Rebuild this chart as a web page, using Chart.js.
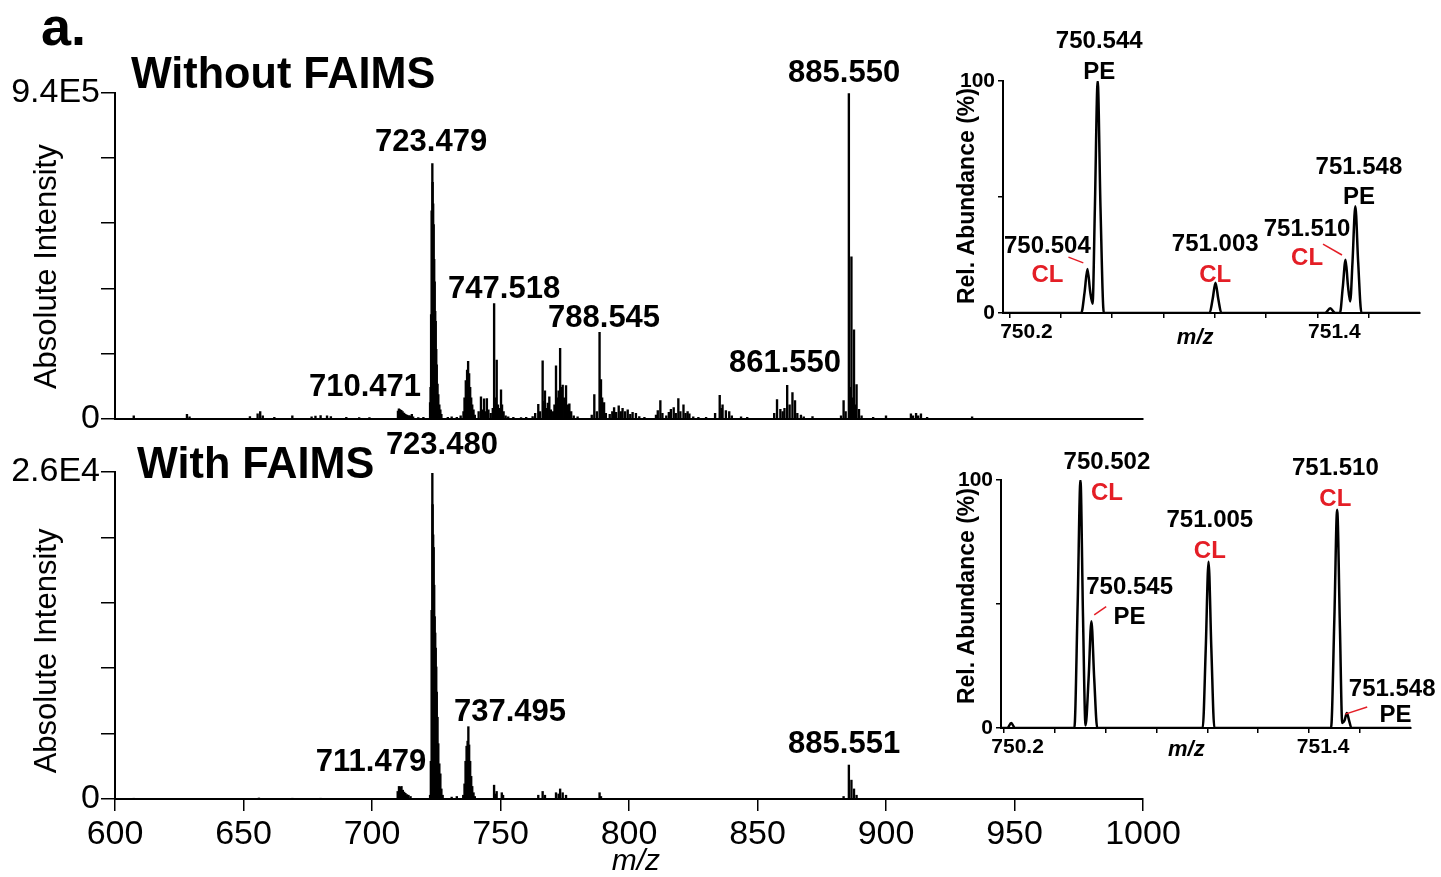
<!DOCTYPE html>
<html>
<head>
<meta charset="utf-8">
<script src="https://cdn.jsdelivr.net/npm/chart.js@4.4.1/dist/chart.umd.min.js"></script>
<style>
  html, body { margin: 0; padding: 0; background: #fff; }
  #wrap { position: relative; width: 1441px; height: 877px; overflow: hidden; }
  canvas { position: absolute; }
</style>
</head>
<body>
<div id="wrap">
  <canvas id="mainTop" width="1160" height="440" style="left:0;top:0"></canvas>
  <canvas id="mainBottom" width="1200" height="457" style="left:0;top:420px"></canvas>
  <canvas id="insetTop" width="500" height="330" style="left:940px;top:20px"></canvas>
  <canvas id="insetBottom" width="501" height="330" style="left:940px;top:440px"></canvas>
</div>
<script>
// ---- spectrum without FAIMS (absolute intensity) ----
const mzWithout = [
  607.3, 628.0, 629.0, 652.5, 655.5, 656.5, 657.5, 662.0, 669.0, 676.5, 678.0, 680.0, 682.5, 684.0, 690.0, 695.0, 699.0,
  710.1, 710.47, 710.9, 711.4, 711.9, 712.5, 713.0, 713.6, 714.2, 714.8, 715.5, 716.0, 718.0, 720.0,
  722.6, 722.8, 723.0, 723.2, 723.479, 723.6, 723.8, 724.0, 724.2, 724.4, 724.6, 724.8, 725.0, 725.2, 725.5, 725.8, 726.2, 726.6, 727.0,
  729.5, 731.0, 733.0, 734.5,
  735.6, 736.0, 736.5, 737.0, 737.4, 737.8, 738.2, 738.6, 739.0, 739.5, 740.0,
  741.5, 742.4, 743.0, 743.6, 744.2, 744.7, 745.3, 746.2, 747.0, 747.518, 748.0, 748.52, 749.0, 749.5, 750.2, 750.6, 751.2, 752.0, 753.0, 755.0, 758.0, 760.0,
  762.5, 763.5, 764.7, 765.4, 766.4, 766.9, 767.3, 768.0, 768.4, 769.0, 769.6, 770.5, 771.0, 771.6, 772.2, 772.6, 773.2, 773.7, 774.2, 774.8, 775.5, 776.2, 776.8, 777.5, 778.5, 780.0,
  785.5, 786.5, 787.5, 788.545, 789.1, 789.55, 790.3, 791.0, 792.5, 793.5, 794.2, 795.0, 796.0, 796.8, 797.5, 798.5, 799.5, 800.5, 801.4, 802.7, 804.0, 806.0,
  810.5, 811.2, 812.2, 813.0, 814.5, 815.5, 816.3, 817.4, 818.2, 819.2, 820.0, 821.2, 822.0, 822.8, 823.5, 825.0, 827.0,
  830.0, 833.5, 835.3, 836.0, 836.4, 837.7, 839.0, 840.0, 843.6, 846.0,
  856.5, 857.6, 858.9, 859.8, 860.5, 861.55, 862.5, 863.6, 864.6, 865.5, 866.9, 868.0, 871.4,
  882.5, 883.5, 884.3, 885.55, 886.0, 886.55, 887.0, 887.55, 888.0, 888.55, 889.5, 890.5,
  895.0, 900.0, 909.7, 910.5, 911.7, 912.5, 913.6, 916.0, 933.5
];
const intWithout = [
  8000, 12000, 5000, 6000, 14000, 20000, 8000, 4000, 8000, 5000, 7000, 9000, 8000, 6000, 4000, 3000, 3000,
  22000, 28000, 26000, 24000, 20000, 16000, 12000, 10000, 9000, 8000, 12000, 5000, 3000, 4000,
  46000, 90000, 300000, 600000, 736000, 682000, 620000, 560000, 460000, 395000, 310000, 281000, 200000, 155000, 100000, 69000, 40000, 25000, 12000,
  4000, 5000, 4000, 8000,
  20000, 60000, 110000, 140000, 165000, 130000, 90000, 60000, 40000, 25000, 10000,
  20000, 63000, 25000, 57000, 20000, 58000, 25000, 15000, 30000, 332000, 60000, 169000, 40000, 30000, 83000, 40000, 20000, 8000, 5000, 4000, 3000, 4000,
  6000, 15000, 41000, 20000, 167000, 50000, 80000, 30000, 45000, 63000, 25000, 20000, 40000, 152000, 60000, 80000, 203000, 90000, 97000, 60000, 95000, 40000, 43000, 20000, 8000, 5000,
  10000, 69000, 20000, 249000, 113000, 60000, 46000, 15000, 12000, 20000, 32000, 18000, 37000, 20000, 30000, 20000, 25000, 12000, 18000, 15000, 6000, 4000,
  10000, 23000, 52000, 15000, 8000, 18000, 27000, 32000, 15000, 58000, 20000, 40000, 15000, 20000, 14000, 5000, 4000,
  4000, 15000, 67000, 30000, 40000, 23000, 20000, 8000, 5000, 4000,
  15000, 55000, 27000, 20000, 30000, 96000, 40000, 75000, 52000, 15000, 10000, 5000, 6000,
  8000, 52000, 20000, 938000, 90000, 467000, 60000, 256000, 40000, 98000, 27000, 8000,
  4000, 8000, 14000, 8000, 15000, 8000, 14000, 4000, 5000
];

// ---- spectrum with FAIMS ----
const mzWith = [
  607.3, 656.0, 669.0, 680.0,
  710.0, 710.5, 711.0, 711.479, 712.0, 712.5, 713.0, 713.6, 714.2, 715.0,
  722.6, 722.9, 723.2, 723.48, 723.6, 723.8, 724.0, 724.2, 724.4, 724.6, 724.8, 725.0, 725.2, 725.5, 725.8, 726.2, 726.6, 727.0, 727.5,
  731.0, 733.0,
  735.5, 736.0, 736.4, 736.8, 737.2, 737.495, 737.8, 738.2, 738.6, 739.0, 739.5, 740.0,
  747.5, 748.0, 748.5, 750.5, 751.0,
  764.7, 766.4, 767.3, 771.6, 772.6, 773.2, 774.2, 775.5, 788.55, 789.1,
  883.5, 885.55, 886.55, 887.55, 888.55
];
const intWith = [
  50, 80, 60, 60,
  600, 1000, 950, 1000, 700, 550, 450, 350, 300, 200,
  300, 3000, 15000, 25900, 23400, 21000, 20000, 17000, 14500, 13200, 12000, 10500, 8500, 6500, 4400, 2800, 2000, 800, 300,
  150, 200,
  300, 1200, 3000, 4200, 4600, 5750, 4300, 3000, 1800, 1000, 500, 200,
  1100, 400, 600, 500, 300,
  300, 600, 300, 500, 400, 800, 500, 300, 500, 200,
  200, 2700, 1500, 800, 300
];

// ---- zoomed insets (relative abundance, %) ----
const mzInsetTop = [750.175, 750.21, 750.48, 750.493, 750.504, 750.515, 750.524, 750.533, 750.544, 750.555, 750.568,
  750.98, 750.992, 751.003, 751.014, 751.026, 751.43, 751.45, 751.47, 751.488, 751.499, 751.510, 751.519, 751.528,
  751.537, 751.548, 751.559, 751.572, 751.80];
const abInsetTop = [0, 0, 0, 9, 19, 9, 4, 45, 100, 45, 0,
  0, 6, 13, 6, 0, 0, 2, 0, 0, 11, 23, 12, 5,
  22, 46, 22, 0, 0];
const mzInsetBottom = [750.19, 750.215, 750.23, 750.245, 750.478, 750.491, 750.502, 750.512, 750.522, 750.534, 750.545,
  750.556, 750.568, 750.982, 750.994, 751.005, 751.016, 751.028, 751.486, 751.499, 751.510, 751.521, 751.53, 751.539,
  751.548, 751.557, 751.566, 751.80];
const abInsetBottom = [0, 0, 2, 0, 0, 50, 100, 45, 1, 20, 43,
  20, 0, 0, 32, 67, 32, 0, 0, 44, 88, 40, 2, 3,
  6, 3, 0, 0];

// ---- ticks ----
const mzTicks = [600, 650, 700, 750, 800, 850, 900, 950, 1000];
const yTicksWithout = [0, 188000, 376000, 564000, 752000, 940000];
const yTicksWith = [0, 5200, 10400, 15600, 20800, 26000];
const insetMzTicks = [750.2, 750.4, 750.6, 750.8, 751.0, 751.2, 751.4, 751.6];
const insetAbTicks = [0, 50, 100];

// ---- peak labels: [text, m/z, height] ----
const peaksWithout = [
  ['723.479', 723.0, 797000], ['710.471', 697.3, 89000], ['747.518', 751.4, 373000],
  ['788.545', 790.3, 289000], ['861.550', 860.7, 160000], ['885.550', 883.7, 997000]
];
const peaksWith = [
  ['723.480', 727.2, 28100], ['711.479', 699.6, 2940], ['737.495', 753.7, 6900], ['885.551', 883.7, 4300]
];
const insetTopNotes = [
  ['750.544', 750.550, 117.2, 'k'], ['PE', 750.550, 103.9, 'k'],
  ['750.504', 750.348, 28.9, 'k'], ['CL', 750.348, 16.4, 'r'],
  ['751.003', 751.002, 29.7, 'k'], ['CL', 751.002, 16.4, 'r'],
  ['751.510', 751.360, 36.2, 'k'], ['CL', 751.360, 23.7, 'r'],
  ['751.548', 751.562, 62.9, 'k'], ['PE', 751.562, 50.0, 'k']
];
const insetBottomNotes = [
  ['750.502', 750.606, 107.3, 'k'], ['CL', 750.606, 94.8, 'r'],
  ['751.005', 751.010, 83.7, 'k'], ['CL', 751.010, 71.1, 'r'],
  ['750.545', 750.695, 56.7, 'k'], ['PE', 750.695, 44.5, 'k'],
  ['751.510', 751.503, 104.6, 'k'], ['CL', 751.503, 92.1, 'r'],
  ['751.548', 751.726, 15.7, 'k'], ['PE', 751.739, 5.2, 'k']
];
const insetTopLeaders = [[750.430, 24.1, 750.488, 21.6], [751.422, 29.7, 751.496, 25.0]];
const insetBottomLeaders = [[750.603, 48.9, 750.556, 45.6], [751.628, 8.5, 751.542, 5.6]];

const FONT = '"Liberation Sans", Arial, Helvetica, sans-serif';
const RED = '#e41e26';

// draws free text and leader lines at data coordinates
const notesPlugin = {
  id: 'notes',
  afterDraw(chart, args, opts) {
    const { ctx } = chart;
    const sx = chart.scales.x, sy = chart.scales.y;
    ctx.save();
    (opts.lines || []).forEach(l => {
      ctx.strokeStyle = RED;
      ctx.lineWidth = 1.5;
      ctx.beginPath();
      ctx.moveTo(sx.getPixelForValue(l[0]), sy.getPixelForValue(l[1]));
      ctx.lineTo(sx.getPixelForValue(l[2]), sy.getPixelForValue(l[3]));
      ctx.stroke();
    });
    (opts.items || []).forEach(t => {
      ctx.save();
      ctx.translate(sx.getPixelForValue(t.x), sy.getPixelForValue(t.y));
      if (t.rotate) ctx.rotate(t.rotate);
      if (t.sx) ctx.scale(t.sx, 1);
      ctx.font = t.font;
      ctx.fillStyle = t.color || '#000';
      ctx.textAlign = t.align || 'center';
      ctx.textBaseline = t.baseline || 'middle';
      ctx.fillText(t.text, 0, 0);
      ctx.restore();
    });
    ctx.restore();
  }
};
Chart.register(notesPlugin);

function sticks(mz, vals) {
  return mz.map((m, i) => ({ x: m, y: vals[i] }));
}

function tickLabels(map) {
  return v => {
    const hit = map.find(p => Math.abs(p[0] - v) < 1e-6);
    return hit ? hit[1] : '';
  };
}

function spectrum(id, cfg) {
  return new Chart(document.getElementById(id), {
    type: 'bar',
    data: {
      datasets: [{
        data: sticks(cfg.mz, cfg.vals),
        backgroundColor: '#000',
        borderWidth: 0,
        barThickness: 1.7,
        grouped: false
      }]
    },
    options: {
      responsive: false,
      animation: false,
      layout: { padding: { top: cfg.padTop, right: cfg.padRight, left: 0, bottom: 0 } },
      plugins: {
        legend: { display: false },
        tooltip: { enabled: false },
        notes: { items: cfg.notes }
      },
      scales: {
        x: {
          type: 'linear', min: 600, max: 1000, offset: false,
          afterBuildTicks: s => { s.ticks = mzTicks.map(v => ({ value: v })); },
          afterFit: s => { s.height = cfg.xHeight; },
          ticks: {
            display: cfg.showX, autoSkip: false, maxRotation: 0, padding: 3,
            color: '#000', font: { family: FONT, size: 34 },
            callback: v => String(v)
          },
          grid: { display: cfg.showX, drawOnChartArea: false, offset: false, tickLength: 12, color: '#000', lineWidth: 1.5 },
          border: { display: true, color: '#000', width: 2 }
        },
        y: {
          min: 0, max: cfg.yMax,
          afterBuildTicks: s => { s.ticks = cfg.yTicks.map(v => ({ value: v })); },
          afterFit: s => { s.width = 115; },
          ticks: {
            autoSkip: false, padding: 1, color: '#000',
            font: { family: FONT, size: 34 },
            callback: tickLabels(cfg.yLabels)
          },
          grid: { drawOnChartArea: false, tickLength: 14, color: '#000', lineWidth: 1.5 },
          border: { display: true, color: '#000', width: 2 }
        }
      }
    }
  });
}

function peakItems(list) {
  return list.map(p => ({ text: p[0], x: p[1], y: p[2], font: `bold 31px ${FONT}` }));
}

spectrum('mainTop', {
  mz: mzWithout, vals: intWithout, yMax: 940000, yTicks: yTicksWithout,
  yLabels: [[0, '0'], [940000, '9.4E5']],
  padTop: 93, padRight: 17, xHeight: 19, showX: false,
  notes: peakItems(peaksWithout).concat([
    { text: 'Without FAIMS', x: 606.2, y: 989000, align: 'left', sx: 0.96, font: `bold 45px ${FONT}` },
    { text: 'a.', x: 571.2, y: 1080000, align: 'left', baseline: 'alphabetic', font: `bold 54px ${FONT}` },
    { text: 'Absolute Intensity', x: 573.9, y: 438500, rotate: -Math.PI / 2, font: `31px ${FONT}` }
  ])
});

spectrum('mainBottom', {
  mz: mzWith, vals: intWith, yMax: 26000, yTicks: yTicksWith,
  yLabels: [[0, '0'], [26000, '2.6E4']],
  padTop: 52, padRight: 57, xHeight: 78, showX: true,
  notes: peakItems(peaksWith).concat([
    { text: 'With FAIMS', x: 608.6, y: 26470, align: 'left', sx: 0.96, font: `bold 45px ${FONT}` },
    { text: 'Absolute Intensity', x: 573.9, y: 11770, rotate: -Math.PI / 2, font: `31px ${FONT}` },
    { text: 'm/z', x: 802.7, y: -5000, font: `italic 30px ${FONT}` }
  ])
});

function inset(id, cfg) {
  return new Chart(document.getElementById(id), {
    type: 'line',
    data: {
      datasets: [{
        data: sticks(cfg.mz, cfg.vals),
        borderColor: '#000',
        borderWidth: 2.5,
        pointRadius: 0,
        fill: false,
        cubicInterpolationMode: 'monotone'
      }]
    },
    options: {
      responsive: false,
      animation: false,
      layout: { padding: { top: cfg.padTop, right: cfg.padRight, left: 0, bottom: 0 } },
      plugins: {
        legend: { display: false },
        tooltip: { enabled: false },
        notes: {
          lines: cfg.leaders,
          items: cfg.notes.map(n => ({
            text: n[0], x: n[1], y: n[2], color: n[3] === 'r' ? RED : '#000', font: `bold 24px ${FONT}`
          })).concat([
            { text: 'Rel. Abundance (%)', x: cfg.titleX, y: cfg.titleY, rotate: -Math.PI / 2, font: `bold 23px ${FONT}` },
            { text: 'm/z', x: cfg.mzX, y: cfg.mzY, font: `italic bold 22px ${FONT}` }
          ])
        }
      },
      scales: {
        x: {
          type: 'linear', min: cfg.xMin, max: cfg.xMax,
          afterBuildTicks: s => { s.ticks = insetMzTicks.map(v => ({ value: v })); },
          afterFit: s => { s.height = cfg.xHeight; },
          ticks: {
            autoSkip: false, maxRotation: 0, padding: 2, labelOffset: cfg.labelOffset,
            color: '#000', font: { family: FONT, size: 21, weight: 'bold' },
            callback: tickLabels([[750.2, '750.2'], [751.4, '751.4']])
          },
          grid: { drawOnChartArea: false, tickLength: 5, color: '#000', lineWidth: 1.5 },
          border: { display: true, color: '#000', width: 2 }
        },
        y: {
          min: 0, max: 100,
          afterBuildTicks: s => { s.ticks = insetAbTicks.map(v => ({ value: v })); },
          afterFit: s => { s.width = cfg.yWidth; },
          ticks: {
            autoSkip: false, padding: 3, color: '#000',
            font: { family: FONT, size: 21, weight: 'bold' },
            callback: tickLabels([[0, '0'], [100, '100']])
          },
          grid: { drawOnChartArea: false, tickLength: 5, color: '#000', lineWidth: 1.5 },
          border: { display: true, color: '#000', width: 2 }
        }
      }
    }
  });
}

inset('insetTop', {
  mz: mzInsetTop, vals: abInsetTop, xMin: 750.175, xMax: 751.80,
  padTop: 61, padRight: 20, xHeight: 37, yWidth: 63, labelOffset: 17,
  notes: insetTopNotes, leaders: insetTopLeaders,
  titleX: 750.037, titleY: 50.4, mzX: 750.924, mzY: -10.8
});

inset('insetBottom', {
  mz: mzInsetBottom, vals: abInsetBottom, xMin: 750.19, xMax: 751.80,
  padTop: 40, padRight: 30, xHeight: 42, yWidth: 61, labelOffset: 14,
  notes: insetBottomNotes, leaders: insetBottomLeaders,
  titleX: 750.059, titleY: 53.2, mzX: 750.918, mzY: -8.9
});
</script>
</body>
</html>
